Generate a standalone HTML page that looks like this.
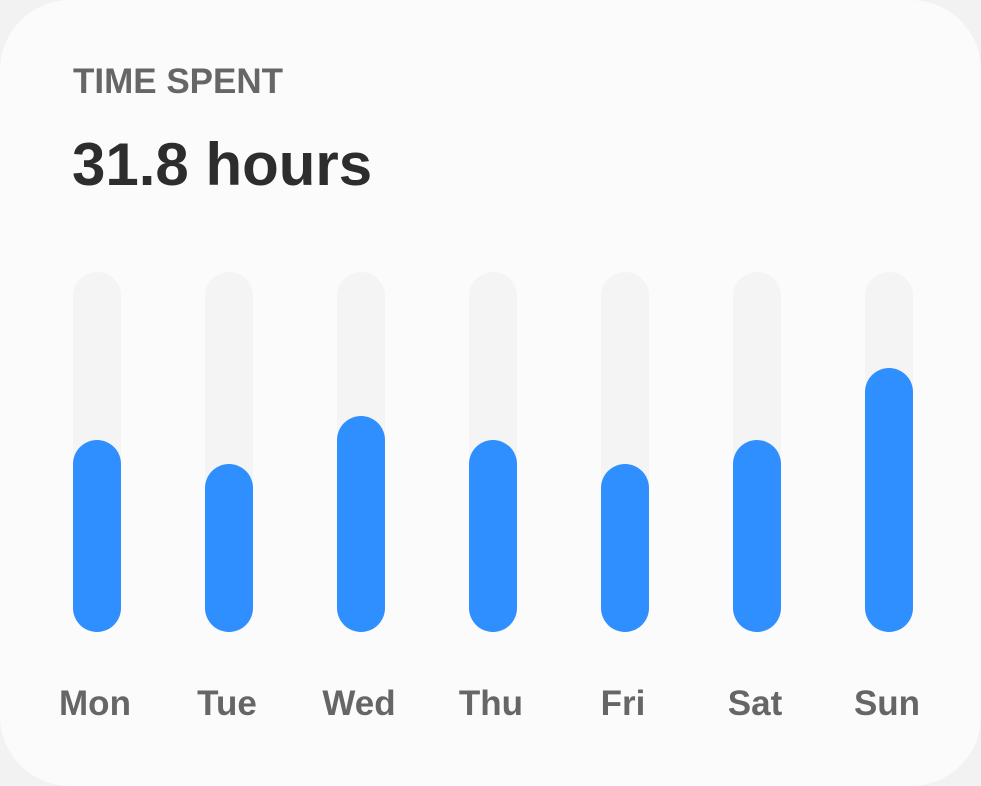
<!DOCTYPE html>
<html><head><meta charset="utf-8"><style>
html,body{margin:0;padding:0;background:#f2f2f2;}
body{width:981px;height:786px;overflow:hidden;position:relative;font-family:"Liberation Sans",sans-serif;}
.card{position:absolute;left:0;top:0;width:981px;height:786px;background:#fbfbfb;border-radius:70px;}
.t1{position:absolute;left:73px;top:62px;font-size:35px;font-weight:bold;color:#666;line-height:40px;}
.t2{position:absolute;left:72px;top:130px;font-size:60px;font-weight:bold;color:#2d2d2d;line-height:70px;}
</style></head><body>
<div class="card">
<div class="t1">TIME SPENT</div>
<div class="t2">31.8 hours</div>
<svg id="chart" width="981" height="786" style="position:absolute;left:0;top:0"></svg>
</div>
<script>
const days=["Mon","Tue","Wed","Thu","Fri","Sat","Sun"];
const values=[8,7,9,8,7,8,11];
const maxValue=15;
const svg=document.getElementById('chart');
const NS="http://www.w3.org/2000/svg";
const x0=97,step=132,bw=48,trackTop=272,trackBottom=632;
function xs(i){return x0+i*step;}
function ys(v){return trackBottom-(trackBottom-trackTop)*v/maxValue;}
days.forEach((d,i)=>{
  const tr=document.createElementNS(NS,'rect');
  tr.setAttribute('x',xs(i)-bw/2);tr.setAttribute('y',trackTop);tr.setAttribute('width',bw);tr.setAttribute('height',trackBottom-trackTop);
  tr.setAttribute('rx',24);tr.setAttribute('fill','#f4f4f4');
  
  
  svg.appendChild(tr);
  const b=document.createElementNS(NS,'rect');
  const y=ys(values[i]);
  b.setAttribute('x',xs(i)-bw/2);b.setAttribute('y',y);b.setAttribute('width',bw);b.setAttribute('height',trackBottom-y);
  b.setAttribute('rx',24);b.setAttribute('fill','#2f8fff');
  
  
  svg.appendChild(b);
  const t=document.createElementNS(NS,'text');
  t.setAttribute('x',xs(i)-2);t.setAttribute('y',715);t.setAttribute('text-anchor','middle');
  t.setAttribute('font-size','35');t.setAttribute('font-weight','bold');t.setAttribute('fill','#666');
  t.setAttribute('font-family','Liberation Sans, sans-serif');
  t.textContent=d;
  
  
  svg.appendChild(t);
});
</script>
</body></html>
